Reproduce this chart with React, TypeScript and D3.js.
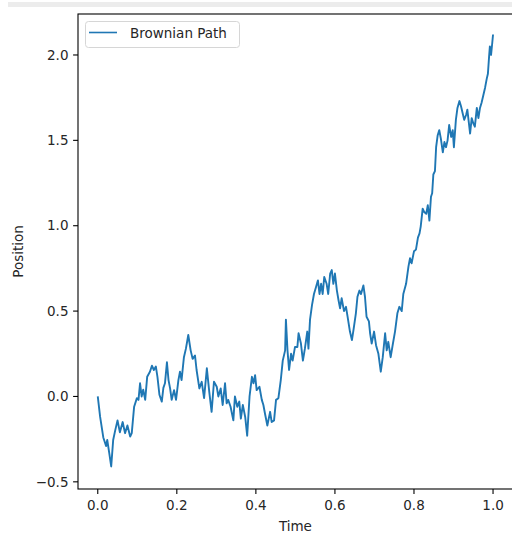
import React from "react";
import * as d3 from "d3";

const time = [
  0.0, 0.006, 0.014, 0.021, 0.024, 0.029, 0.034, 0.039, 0.044, 0.05, 0.056, 0.063, 0.069, 0.075, 0.082, 0.086,
  0.092, 0.099, 0.103, 0.107, 0.111, 0.115, 0.12, 0.125, 0.132, 0.137, 0.142, 0.147, 0.151, 0.156, 0.162, 0.166,
  0.17, 0.175, 0.179, 0.183, 0.187, 0.193, 0.198, 0.204, 0.208, 0.212, 0.218, 0.223, 0.229, 0.235, 0.24, 0.246,
  0.25, 0.257, 0.263, 0.269, 0.276, 0.282, 0.288, 0.294, 0.301, 0.305, 0.311, 0.316, 0.322, 0.326, 0.33, 0.336,
  0.343, 0.347, 0.353, 0.358, 0.362, 0.367, 0.373, 0.378, 0.384, 0.39, 0.394, 0.398, 0.402, 0.409, 0.415, 0.419,
  0.423, 0.429, 0.436, 0.44, 0.446, 0.451, 0.457, 0.463, 0.468, 0.474, 0.476, 0.48, 0.484, 0.489, 0.493, 0.499,
  0.505, 0.508, 0.514, 0.519, 0.524, 0.53, 0.533, 0.537, 0.542, 0.547, 0.552, 0.557, 0.561, 0.565, 0.569, 0.573,
  0.579, 0.583, 0.588, 0.592, 0.596, 0.6, 0.605, 0.609, 0.613, 0.617, 0.623, 0.628, 0.632, 0.638, 0.643, 0.647,
  0.653, 0.657, 0.662, 0.666, 0.672, 0.676, 0.68, 0.686, 0.689, 0.693, 0.699, 0.704, 0.71, 0.716, 0.721, 0.727,
  0.731, 0.735, 0.741, 0.746, 0.752, 0.758, 0.763, 0.769, 0.773, 0.78, 0.786, 0.79, 0.794, 0.8, 0.805, 0.81,
  0.814, 0.817, 0.822, 0.826, 0.831, 0.835, 0.839, 0.843, 0.846, 0.849, 0.853, 0.856, 0.86, 0.864, 0.868, 0.873,
  0.877, 0.881, 0.885, 0.889, 0.894, 0.898, 0.901, 0.906, 0.91, 0.915, 0.919, 0.923, 0.927, 0.932, 0.935, 0.939,
  0.942, 0.946, 0.95, 0.954, 0.959, 0.963, 0.967, 0.971, 0.975, 0.98, 0.984, 0.987, 0.99, 0.992, 0.995, 0.998,
  1.0,
];
const position = [
  0.0, -0.12, -0.24, -0.29, -0.255, -0.33, -0.41, -0.255, -0.2, -0.14, -0.21, -0.15, -0.215, -0.17, -0.235, -0.215,
  -0.06, -0.01, -0.02, 0.077, 0.0, 0.04, -0.02, 0.115, 0.145, 0.18, 0.155, 0.175, 0.115, 0.01, -0.03, 0.05,
  0.077, 0.2, 0.096, 0.047, -0.02, 0.037, -0.02, 0.096, 0.145, 0.096, 0.23, 0.28, 0.36, 0.27, 0.22, 0.24,
  0.155, 0.047, 0.086, -0.01, 0.165, 0.028, -0.09, 0.086, 0.057, 0.0, 0.047, -0.05, 0.077, -0.04, -0.02, -0.06,
  -0.14, 0.0, -0.06, -0.03, -0.13, -0.05, -0.12, -0.23, 0.0, 0.115, 0.077, 0.125, 0.037, 0.057, -0.02, -0.05,
  -0.1, -0.17, -0.09, -0.15, -0.14, -0.02, -0.01, 0.096, 0.21, 0.27, 0.45, 0.27, 0.155, 0.25, 0.21, 0.29,
  0.29, 0.37, 0.31, 0.21, 0.28, 0.38, 0.28, 0.45, 0.535, 0.6, 0.64, 0.68, 0.6, 0.66, 0.6, 0.7,
  0.66, 0.6, 0.72, 0.74, 0.66, 0.72, 0.62, 0.565, 0.516, 0.575, 0.5, 0.525, 0.467, 0.38, 0.33, 0.39,
  0.487, 0.584, 0.62, 0.6, 0.65, 0.584, 0.467, 0.44, 0.37, 0.31, 0.38, 0.3, 0.25, 0.145, 0.23, 0.37,
  0.27, 0.32, 0.23, 0.3, 0.38, 0.487, 0.525, 0.5, 0.6, 0.66, 0.76, 0.81, 0.78, 0.85, 0.86, 0.93,
  0.955, 0.995, 1.1, 1.08, 1.07, 1.12, 1.03, 1.17, 1.19, 1.3, 1.32, 1.46, 1.53, 1.56, 1.51, 1.43,
  1.49, 1.46, 1.5, 1.59, 1.52, 1.56, 1.46, 1.62, 1.69, 1.73, 1.7, 1.66, 1.62, 1.65, 1.68, 1.6,
  1.54, 1.63, 1.6, 1.58, 1.69, 1.63, 1.69, 1.72, 1.76, 1.81, 1.86, 1.89, 1.99, 2.05, 2.0, 2.07,
  2.12,
];
const xTicks = [0, 0.2, 0.4, 0.6, 0.8, 1.0];
const yTicks = [-0.5, 0, 0.5, 1.0, 1.5, 2.0];
const seriesLabel = "Brownian Path";

const W = 512;
const H = 534;
const FONT = "DejaVu Sans, sans-serif";
const BLUE = "#1f77b4";

export default function App() {
  const x = d3.scaleLinear().domain([-0.05, 1.05]).range([78, 512.8]);
  const y = d3.scaleLinear().domain([-0.542, 2.24]).range([489, 14]);
  const pts: [number, number][] = time.map((t, i) => [t, position[i]]);
  const line = d3
    .line<[number, number]>()
    .x((d) => x(d[0]))
    .y((d) => y(d[1]));
  const fmt = (v: number) => d3.format(".1f")(v).replace("-", "\u2212");
  const [x0, x1] = x.range();
  const [yb, yt] = y.range();

  return (
    <svg
      width={W}
      height={H}
      style={{ position: "absolute", left: 0, top: 0, background: "#fff" }}
      fontFamily={FONT}
    >
      <rect x={8} y={2} width={W - 8} height={5} fill="#ececec" />
      <defs>
        <clipPath id="plot">
          <rect x={x0} y={yt} width={x1 - x0} height={yb - yt} />
        </clipPath>
      </defs>
      <path
        d={line(pts) ?? ""}
        fill="none"
        stroke={BLUE}
        strokeWidth={1.9}
        strokeLinejoin="round"
        clipPath="url(#plot)"
      />
      {/* spines */}
      <rect x={x0} y={yt} width={x1 - x0} height={yb - yt} fill="none" stroke="#000" strokeWidth={1.1} />
      {xTicks.map((t) => (
        <g key={"x" + t} transform={`translate(${x(t)},${yb})`}>
          <line y2={4.9} stroke="#000" strokeWidth={1.1} />
          <text y={20.5} textAnchor="middle" fontSize={13.5} fill="#262626">
            {fmt(t)}
          </text>
        </g>
      ))}
      {yTicks.map((v) => (
        <g key={"y" + v} transform={`translate(${x0},${y(v)})`}>
          <line x2={-4.9} stroke="#000" strokeWidth={1.1} />
          <text x={-9.5} dy="0.35em" textAnchor="end" fontSize={13.5} fill="#262626">
            {fmt(v)}
          </text>
        </g>
      ))}
      <text x={(x0 + x1) / 2} y={531} textAnchor="middle" fontSize={13.5} fill="#262626">
        Time
      </text>
      <text
        transform={`translate(23,${(yb + yt) / 2}) rotate(-90)`}
        textAnchor="middle"
        fontSize={13.5}
        fill="#262626"
      >
        Position
      </text>
      {/* legend */}
      <rect x={85.5} y={21.5} width={154} height={26} rx={3} fill="#fff" fillOpacity={0.8} stroke="#d6d6d6" />
      <line x1={89} x2={117} y1={32.5} y2={32.5} stroke={BLUE} strokeWidth={1.6} />
      <text x={130} y={37.5} fontSize={13.5} fill="#262626">
        {seriesLabel}
      </text>
    </svg>
  );
}
